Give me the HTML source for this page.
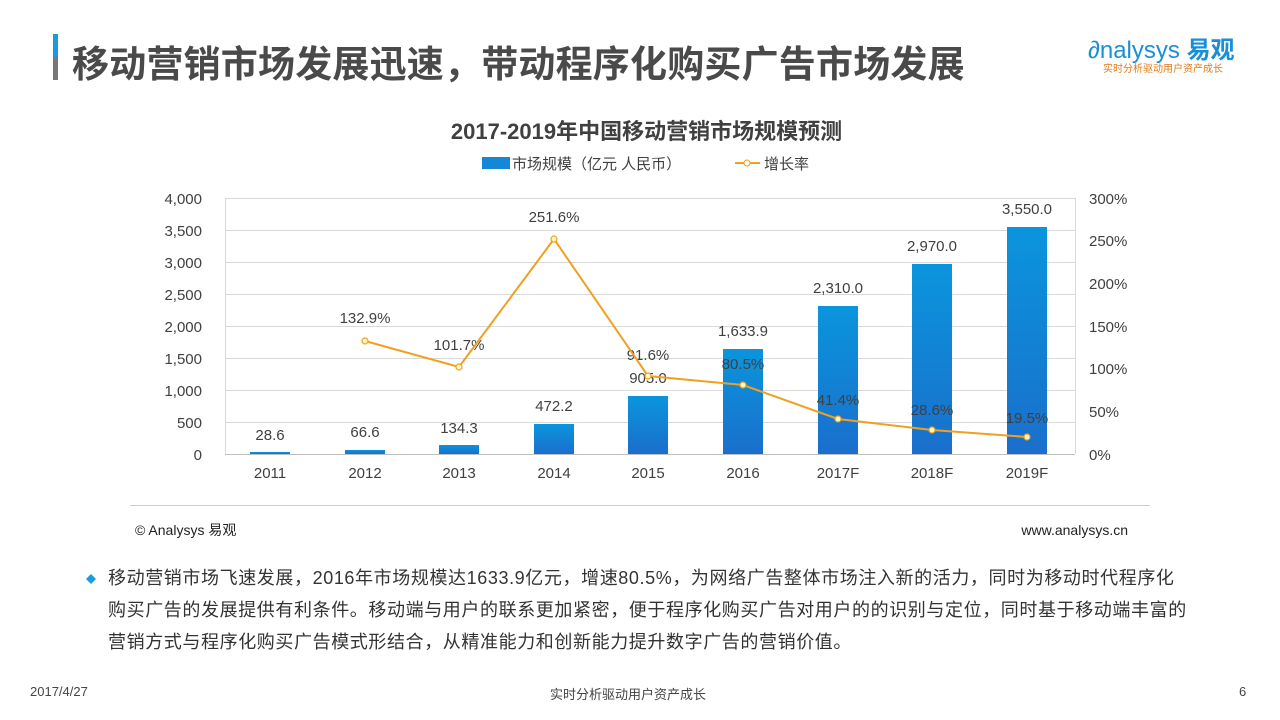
<!DOCTYPE html>
<html><head><meta charset="utf-8"><style>
body{margin:0;width:1280px;height:720px;background:#fff;overflow:hidden;font-family:"Liberation Sans","Noto Sans CJK SC",sans-serif;position:relative}
.a{position:absolute;white-space:nowrap}
</style></head><body>
<div class="a" style="left:53px;top:34px;width:5px;height:46px;background:linear-gradient(#1a9be0 50%,#777 50%)"></div>
<div class="a" style="left:72px;top:34px;font-size:37px;font-weight:bold;color:#4a4a4a;letter-spacing:0.2px">移动营销市场发展迅速，带动程序化购买广告市场发展</div>
<div class="a" style="left:1088px;top:30px;font-size:24px;color:#1a8fd6">∂nalysys <b>易观</b></div>
<div class="a" style="left:1103px;top:60px;font-size:10px;color:#e07b1a">实时分析驱动用户资产成长</div>
<div class="a" style="left:0;width:1280px;text-align:center;top:114px;font-size:22px;font-weight:bold;color:#404040;padding-left:13px;box-sizing:border-box">2017-2019年中国移动营销市场规模预测</div>
<svg class="a" style="left:0;top:0" width="1280" height="720">
<defs><linearGradient id="g" x1="0" y1="0" x2="0" y2="1"><stop offset="0" stop-color="#0a95dc"/><stop offset="1" stop-color="#1a6fcc"/></linearGradient></defs>
<rect x="482" y="157" width="28" height="12" fill="#1587d8"/>
<text x="512" y="169" font-size="15" fill="#404040">市场规模（亿元 人民币）</text>
<line x1="735" y1="163" x2="760" y2="163" stroke="#f0a020" stroke-width="2"/><circle cx="747" cy="163" r="3" fill="#fff" stroke="#f0a020"/>
<text x="764" y="169" font-size="15" fill="#404040">增长率</text>
<g stroke="#d9d9d9" stroke-width="1">
<line x1="225" y1="198.5" x2="1075" y2="198.5"/><line x1="225" y1="230.5" x2="1075" y2="230.5"/><line x1="225" y1="262.5" x2="1075" y2="262.5"/><line x1="225" y1="294.5" x2="1075" y2="294.5"/><line x1="225" y1="326.5" x2="1075" y2="326.5"/><line x1="225" y1="358.5" x2="1075" y2="358.5"/><line x1="225" y1="390.5" x2="1075" y2="390.5"/><line x1="225" y1="422.5" x2="1075" y2="422.5"/>
<line x1="225.5" y1="198" x2="225.5" y2="454"/><line x1="1075.5" y1="198" x2="1075.5" y2="454"/>
</g>
<line x1="225" y1="454.5" x2="1075" y2="454.5" stroke="#bfbfbf"/>
<g fill="url(#g)">
<rect x="250" y="452" width="40" height="2"/><rect x="345" y="450" width="40" height="4"/><rect x="439" y="445" width="40" height="9"/><rect x="534" y="424" width="40" height="30"/><rect x="628" y="396" width="40" height="58"/><rect x="723" y="349" width="40" height="105"/><rect x="818" y="306" width="40" height="148"/><rect x="912" y="264" width="40" height="190"/><rect x="1007" y="227" width="40" height="227"/>
</g>
<g font-size="15" fill="#404040" text-anchor="end">
<text x="202" y="204">4,000</text><text x="202" y="236">3,500</text><text x="202" y="268">3,000</text><text x="202" y="300">2,500</text><text x="202" y="332">2,000</text><text x="202" y="364">1,500</text><text x="202" y="396">1,000</text><text x="202" y="428">500</text><text x="202" y="460">0</text>
</g>
<g font-size="15" fill="#404040">
<text x="1089" y="204">300%</text><text x="1089" y="246">250%</text><text x="1089" y="289">200%</text><text x="1089" y="332">150%</text><text x="1089" y="374">100%</text><text x="1089" y="417">50%</text><text x="1089" y="460">0%</text>
</g>
<g font-size="15" fill="#404040" text-anchor="middle">
<text x="270" y="478">2011</text><text x="365" y="478">2012</text><text x="459" y="478">2013</text><text x="554" y="478">2014</text><text x="648" y="478">2015</text><text x="743" y="478">2016</text><text x="838" y="478">2017F</text><text x="932" y="478">2018F</text><text x="1027" y="478">2019F</text>
<text x="270" y="440">28.6</text><text x="365" y="437">66.6</text><text x="459" y="433">134.3</text><text x="554" y="411">472.2</text><text x="648" y="383">905.0</text><text x="743" y="336">1,633.9</text><text x="838" y="293">2,310.0</text><text x="932" y="251">2,970.0</text><text x="1027" y="214">3,550.0</text>
<text x="365" y="323">132.9%</text><text x="459" y="350">101.7%</text><text x="554" y="222">251.6%</text><text x="648" y="360">91.6%</text><text x="743" y="369">80.5%</text><text x="838" y="405">41.4%</text><text x="932" y="415">28.6%</text><text x="1027" y="423">19.5%</text>
</g>
<polyline fill="none" stroke="#f0a020" stroke-width="2" points="365,341 459,367 554,239 648,376 743,385 838,419 932,430 1027,437"/>
<g fill="#fff8c0" stroke="#f0a020" stroke-width="1.2">
<circle cx="365" cy="341" r="3"/><circle cx="459" cy="367" r="3"/><circle cx="554" cy="239" r="3"/><circle cx="648" cy="376" r="3"/><circle cx="743" cy="385" r="3"/><circle cx="838" cy="419" r="3"/><circle cx="932" cy="430" r="3"/><circle cx="1027" cy="437" r="3"/>
</g>
<line x1="130" y1="505.5" x2="1150" y2="505.5" stroke="#ccc"/>
<text x="135" y="535" font-size="14" fill="#222">© Analysys 易观</text>
<text x="1128" y="535" font-size="14" fill="#222" text-anchor="end">www.analysys.cn</text>
<path d="M91 574 l5 5 -5 5 -5 -5z" fill="#1a9be0"/>
</svg>
<div class="a" style="left:108px;top:562px;font-size:18px;line-height:32px;color:#333;letter-spacing:0.6px">移动营销市场飞速发展，2016年市场规模达1633.9亿元，增速80.5%，为网络广告整体市场注入新的活力，同时为移动时代程序化<br>购买广告的发展提供有利条件。移动端与用户的联系更加紧密，便于程序化购买广告对用户的的识别与定位，同时基于移动端丰富的<br>营销方式与程序化购买广告模式形结合，从精准能力和创新能力提升数字广告的营销价值。</div>
<div class="a" style="left:30px;top:684px;font-size:13px;color:#444">2017/4/27</div>
<div class="a" style="left:550px;top:684px;font-size:13px;color:#444">实时分析驱动用户资产成长</div>
<div class="a" style="left:1239px;top:684px;font-size:13px;color:#444">6</div>
</body></html>
